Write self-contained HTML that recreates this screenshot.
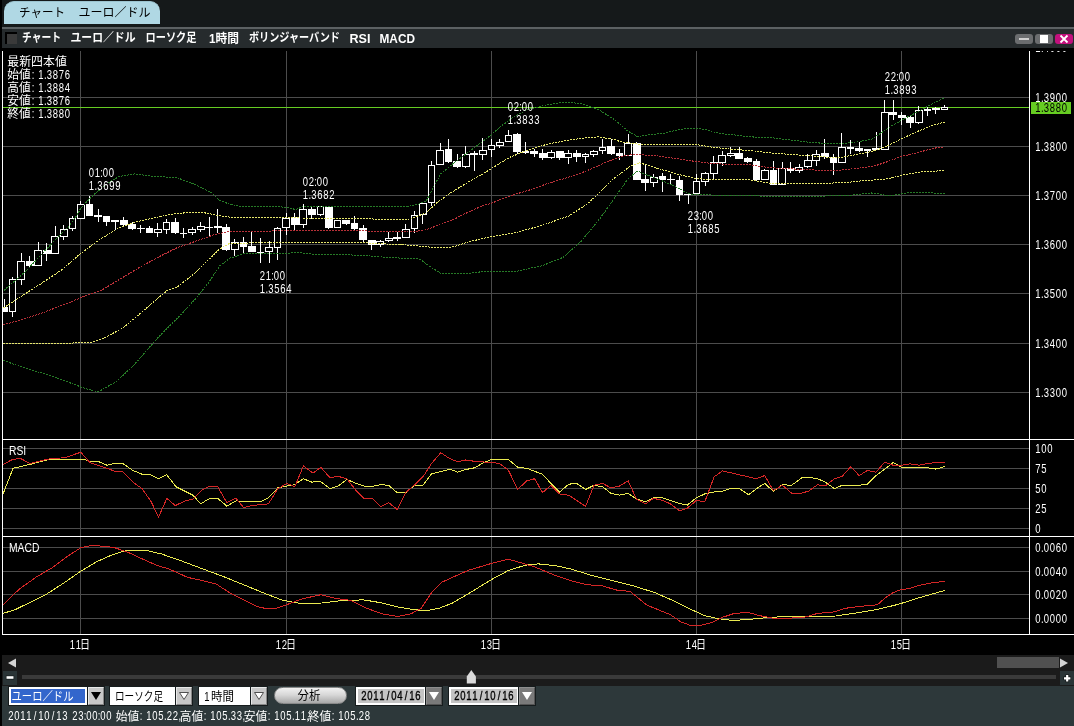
<!DOCTYPE html>
<html lang="ja">
<head>
<meta charset="utf-8">
<title>チャート ユーロ／ドル</title>
<style>
html,body{margin:0;padding:0}
body{width:1074px;height:726px;overflow:hidden;position:relative;background:#15191a;font-family:"Liberation Sans", sans-serif;font-size:12px;color:#fff}
div,svg,span{position:absolute;box-sizing:border-box}
svg{will-change:transform}
.edge{left:0;top:0;width:2px;height:726px;background:#000}
.tab{left:4px;top:1px;width:156px;height:23px;background:#b0d8e4;border-radius:10px 10px 0 0;border-top:1px solid #9cc4d0}
.tab svg{top:-4.5px}
.rule{left:2px;top:27px;width:1072px;height:2px;background:#5c6163}
.title{left:2px;top:29px;width:1072px;height:19px;background:#262b2d}
.title svg{left:-2px}
.chk{left:3px;top:3px;width:12px;height:12px;background:#3a3a3a;border-left:2px solid #000;border-top:2px solid #000}
.wb{top:5px;width:18px;height:10px;border-radius:3px;background:#6b6d6f}
.wb.min{left:1013px} .wb.max{left:1033px} .wb.cls{left:1053px;background:#c2107c}
.wb.min i{position:absolute;left:4px;top:4px;width:10px;height:2px;background:#cfcfcf}
.wb.max i{position:absolute;left:5px;top:1px;width:8px;height:8px;background:#fff}
.chart{left:0;top:48px;will-change:transform}
.hscroll{left:2px;top:655px;width:1072px;height:16px;background:#1b1b1b}
.hscroll .thumb{left:995px;top:2px;width:62px;height:11px;background:#505050}
.zoomrow{left:2px;top:671px;width:1072px;height:15px;background:#1b1b1b}
.zoomrow .track{left:20px;top:4px;width:1034px;height:4px;background:#3a3a3a}
.zb{top:0;width:14px;height:14px;background:#2a3436}
.panel{left:2px;top:686px;width:1072px;height:40px;background:#2d383a}
.cb{top:1px;height:18px;background:#fff;border:1px solid #fff;box-shadow:0 0 0 1px #161c1d}
.dd{top:1px;width:16px;height:18px;background:#c8c8c8;border:1px solid #e8e8e8;border-right-color:#888;border-bottom-color:#888;box-shadow:0 0 0 1px #161c1d}
.date{top:1px;width:70px;height:18px;background:#c4c4c4;border:2px solid #fff;color:#000;box-shadow:0 0 0 1px #161c1d}
.date span{left:4px;top:0;font-size:12.5px;line-height:14px;transform:scaleX(.863);transform-origin:0 0;white-space:nowrap}
.ddk{top:1px;width:16px;height:18px;background:#7a7a7a;border:1px solid #8e8e8e;border-right-color:#555;border-bottom-color:#555;box-shadow:0 0 0 1px #161c1d}
.btn{left:272px;top:1px;width:73px;height:17px;border-radius:9px;background:linear-gradient(#f0f0f0,#d8d8d8 45%,#a8a8a8);border:1px solid #8a8a8a}
.status{left:0;top:22px;width:500px;height:16px}
</style>
</head>
<body>
<div class="edge"></div>
<div class="tab"><svg width="160" height="24" viewBox="0 0 160 24" style="position:absolute;left:0;top:0;" font-family='"Liberation Sans", sans-serif'><text x="15" y="14.5" font-size="12" fill="#000" font-family='"Liberation Sans", "Noto Sans CJK JP", sans-serif' textLength="46" lengthAdjust="spacingAndGlyphs">チャート</text><text x="74.5" y="14.5" font-size="12" fill="#000" font-family='"Liberation Sans", "Noto Sans CJK JP", sans-serif' textLength="72" lengthAdjust="spacingAndGlyphs">ユーロ／ドル</text></svg></div>
<div class="rule"></div>
<div class="title">
  <div class="chk"></div>
  <svg width="430" height="19" viewBox="0 0 430 19" style="position:absolute;left:0;top:0;" font-family='"Liberation Sans", sans-serif'><text x="20" y="13.3" font-size="12" font-weight="bold" fill="#fff" font-family='"Liberation Sans", "Noto Sans CJK JP", sans-serif' textLength="39" lengthAdjust="spacingAndGlyphs">チャート</text><text x="68.5" y="13.3" font-size="12" font-weight="bold" fill="#fff" font-family='"Liberation Sans", "Noto Sans CJK JP", sans-serif' textLength="65" lengthAdjust="spacingAndGlyphs">ユーロ／ドル</text><text x="143.5" y="13.3" font-size="12" font-weight="bold" fill="#fff" font-family='"Liberation Sans", "Noto Sans CJK JP", sans-serif' textLength="51" lengthAdjust="spacingAndGlyphs">ローソク足</text><text x="207" y="13.5" font-size="12" font-weight="bold" fill="#fff" font-family='"Liberation Sans", "Noto Sans CJK JP", sans-serif' textLength="30" lengthAdjust="spacingAndGlyphs">1時間</text><text x="247" y="13.3" font-size="12" font-weight="bold" fill="#fff" font-family='"Liberation Sans", "Noto Sans CJK JP", sans-serif' textLength="91" lengthAdjust="spacingAndGlyphs">ボリンジャーバンド</text><text x="347.5" y="13.8" font-size="12" font-weight="bold" fill="#fff" textLength="21" lengthAdjust="spacingAndGlyphs">RSI</text><text x="377.5" y="13.8" font-size="12" font-weight="bold" fill="#fff" textLength="35.5" lengthAdjust="spacingAndGlyphs">MACD</text></svg>
  <div class="wb min"><i></i></div>
  <div class="wb max"><i></i></div>
  <div class="wb cls"><svg width="18" height="10" viewBox="0 0 18 10" style="left:0;top:0"><path d="M5.5 1.5L12.5 8.5M12.5 1.5L5.5 8.5" stroke="#fff" stroke-width="1.8" fill="none"/></svg></div>
</div>
<svg class="chart" width="1074" height="607" viewBox="0 48 1074 607" font-family='"Liberation Sans", sans-serif'>
<rect x="0" y="48" width="1074" height="607" fill="#000"/>
<defs><clipPath id="cp"><rect x="3" y="51" width="1026" height="583"/></clipPath><clipPath id="cr"><rect x="1030" y="51" width="44" height="583"/></clipPath></defs>
<g shape-rendering="crispEdges" fill="#4c4c4c">
<rect x="3" y="97" width="1026" height="1"/>
<rect x="3" y="146" width="1026" height="1"/>
<rect x="3" y="195" width="1026" height="1"/>
<rect x="3" y="244" width="1026" height="1"/>
<rect x="3" y="293" width="1026" height="1"/>
<rect x="3" y="343" width="1026" height="1"/>
<rect x="3" y="392" width="1026" height="1"/>
<rect x="3" y="448" width="1026" height="1"/>
<rect x="3" y="468" width="1026" height="1"/>
<rect x="3" y="488" width="1026" height="1"/>
<rect x="3" y="508" width="1026" height="1"/>
<rect x="3" y="528" width="1026" height="1"/>
<rect x="3" y="547" width="1026" height="1"/>
<rect x="3" y="571" width="1026" height="1"/>
<rect x="3" y="594" width="1026" height="1"/>
<rect x="3" y="618" width="1026" height="1"/>
<rect x="80" y="51" width="1" height="583"/>
<rect x="286" y="51" width="1" height="583"/>
<rect x="491" y="51" width="1" height="583"/>
<rect x="696" y="51" width="1" height="583"/>
<rect x="901" y="51" width="1" height="583"/>
</g>
<rect x="3" y="107" width="1026" height="1" fill="#66cc22" shape-rendering="crispEdges"/>
<g shape-rendering="crispEdges" clip-path="url(#cp)">
<rect x="4" y="299" width="1" height="13" fill="#fff"/>
<rect x="0" y="307" width="8" height="5" fill="#fff"/>
<rect x="12" y="277" width="1" height="40" fill="#fff"/>
<rect x="9.5" y="279.5" width="6" height="32" fill="#000" stroke="#fff" stroke-width="1"/>
<rect x="21" y="253" width="1" height="32" fill="#fff"/>
<rect x="17.5" y="261.5" width="7" height="18" fill="#000" stroke="#fff" stroke-width="1"/>
<rect x="29" y="256" width="1" height="11" fill="#fff"/>
<rect x="26" y="261" width="8" height="5" fill="#fff"/>
<rect x="38" y="242" width="1" height="24" fill="#fff"/>
<rect x="34.5" y="250.5" width="7" height="15" fill="#000" stroke="#fff" stroke-width="1"/>
<rect x="46" y="243" width="1" height="18" fill="#fff"/>
<rect x="43" y="250" width="8" height="4" fill="#fff"/>
<rect x="55" y="226" width="1" height="28" fill="#fff"/>
<rect x="51.5" y="236.5" width="7" height="17" fill="#000" stroke="#fff" stroke-width="1"/>
<rect x="63" y="225" width="1" height="15" fill="#fff"/>
<rect x="60.5" y="229.5" width="7" height="7" fill="#000" stroke="#fff" stroke-width="1"/>
<rect x="72" y="216" width="1" height="15" fill="#fff"/>
<rect x="69.5" y="218.5" width="6" height="10" fill="#000" stroke="#fff" stroke-width="1"/>
<rect x="80" y="201" width="1" height="18" fill="#fff"/>
<rect x="77.5" y="204.5" width="7" height="14" fill="#000" stroke="#fff" stroke-width="1"/>
<rect x="89" y="196" width="1" height="20" fill="#fff"/>
<rect x="86" y="204" width="7" height="12" fill="#fff"/>
<rect x="98" y="209" width="1" height="13" fill="#fff"/>
<rect x="94" y="215" width="8" height="2" fill="#fff"/>
<rect x="106" y="216" width="1" height="10" fill="#fff"/>
<rect x="103" y="216" width="7" height="6" fill="#fff"/>
<rect x="115" y="220" width="1" height="10" fill="#fff"/>
<rect x="111" y="220" width="8" height="2" fill="#fff"/>
<rect x="123" y="217" width="1" height="10" fill="#fff"/>
<rect x="120" y="220" width="8" height="5" fill="#fff"/>
<rect x="132" y="222" width="1" height="8" fill="#fff"/>
<rect x="128" y="224" width="8" height="5" fill="#fff"/>
<rect x="140" y="225" width="1" height="8" fill="#fff"/>
<rect x="137" y="228" width="8" height="1" fill="#fff"/>
<rect x="149" y="226" width="1" height="7" fill="#fff"/>
<rect x="146" y="228" width="7" height="5" fill="#fff"/>
<rect x="157" y="223" width="1" height="14" fill="#fff"/>
<rect x="154.5" y="229.5" width="7" height="3" fill="#000" stroke="#fff" stroke-width="1"/>
<rect x="166" y="219" width="1" height="15" fill="#fff"/>
<rect x="163.5" y="222.5" width="6" height="7" fill="#000" stroke="#fff" stroke-width="1"/>
<rect x="175" y="218" width="1" height="16" fill="#fff"/>
<rect x="171" y="222" width="8" height="11" fill="#fff"/>
<rect x="183" y="228" width="1" height="10" fill="#fff"/>
<rect x="180" y="233" width="7" height="1" fill="#fff"/>
<rect x="192" y="227" width="1" height="8" fill="#fff"/>
<rect x="188.5" y="229.5" width="7" height="3" fill="#000" stroke="#fff" stroke-width="1"/>
<rect x="200" y="222" width="1" height="10" fill="#fff"/>
<rect x="197.5" y="226.5" width="7" height="3" fill="#000" stroke="#fff" stroke-width="1"/>
<rect x="209" y="217" width="1" height="20" fill="#fff"/>
<rect x="205" y="227" width="8" height="1" fill="#fff"/>
<rect x="217" y="209" width="1" height="24" fill="#fff"/>
<rect x="214" y="226" width="8" height="2" fill="#fff"/>
<rect x="226" y="224" width="1" height="27" fill="#fff"/>
<rect x="222" y="227" width="8" height="23" fill="#fff"/>
<rect x="234" y="239" width="1" height="17" fill="#fff"/>
<rect x="231.5" y="242.5" width="7" height="7" fill="#000" stroke="#fff" stroke-width="1"/>
<rect x="243" y="237" width="1" height="16" fill="#fff"/>
<rect x="240" y="242" width="7" height="5" fill="#fff"/>
<rect x="251" y="232" width="1" height="20" fill="#fff"/>
<rect x="248" y="246" width="8" height="6" fill="#fff"/>
<rect x="260" y="238" width="1" height="25" fill="#fff"/>
<rect x="257" y="252" width="7" height="1" fill="#fff"/>
<rect x="269" y="241" width="1" height="22" fill="#fff"/>
<rect x="265.5" y="247.5" width="7" height="4" fill="#000" stroke="#fff" stroke-width="1"/>
<rect x="277" y="227" width="1" height="33" fill="#fff"/>
<rect x="274.5" y="228.5" width="6" height="19" fill="#000" stroke="#fff" stroke-width="1"/>
<rect x="286" y="213" width="1" height="22" fill="#fff"/>
<rect x="282.5" y="218.5" width="7" height="9" fill="#000" stroke="#fff" stroke-width="1"/>
<rect x="294" y="213" width="1" height="17" fill="#fff"/>
<rect x="291" y="217" width="8" height="8" fill="#fff"/>
<rect x="303" y="204" width="1" height="24" fill="#fff"/>
<rect x="299.5" y="209.5" width="7" height="15" fill="#000" stroke="#fff" stroke-width="1"/>
<rect x="311" y="207" width="1" height="12" fill="#fff"/>
<rect x="308" y="209" width="8" height="6" fill="#fff"/>
<rect x="320" y="206" width="1" height="10" fill="#fff"/>
<rect x="317.5" y="206.5" width="6" height="8" fill="#000" stroke="#fff" stroke-width="1"/>
<rect x="328" y="207" width="1" height="22" fill="#fff"/>
<rect x="325" y="207" width="8" height="21" fill="#fff"/>
<rect x="337" y="220" width="1" height="8" fill="#fff"/>
<rect x="334.5" y="220.5" width="6" height="7" fill="#000" stroke="#fff" stroke-width="1"/>
<rect x="346" y="220" width="1" height="5" fill="#fff"/>
<rect x="342" y="220" width="8" height="4" fill="#fff"/>
<rect x="354" y="216" width="1" height="14" fill="#fff"/>
<rect x="351" y="223" width="7" height="6" fill="#fff"/>
<rect x="363" y="225" width="1" height="18" fill="#fff"/>
<rect x="359" y="228" width="8" height="12" fill="#fff"/>
<rect x="371" y="240" width="1" height="10" fill="#fff"/>
<rect x="368" y="240" width="8" height="5" fill="#fff"/>
<rect x="380" y="240" width="1" height="7" fill="#fff"/>
<rect x="376.5" y="241.5" width="7" height="3" fill="#000" stroke="#fff" stroke-width="1"/>
<rect x="388" y="232" width="1" height="10" fill="#fff"/>
<rect x="385.5" y="238.5" width="7" height="2" fill="#000" stroke="#fff" stroke-width="1"/>
<rect x="397" y="232" width="1" height="9" fill="#fff"/>
<rect x="393" y="237" width="8" height="2" fill="#fff"/>
<rect x="405" y="224" width="1" height="14" fill="#fff"/>
<rect x="402.5" y="229.5" width="7" height="8" fill="#000" stroke="#fff" stroke-width="1"/>
<rect x="414" y="211" width="1" height="22" fill="#fff"/>
<rect x="411.5" y="215.5" width="6" height="13" fill="#000" stroke="#fff" stroke-width="1"/>
<rect x="422" y="202" width="1" height="22" fill="#fff"/>
<rect x="419.5" y="203.5" width="7" height="11" fill="#000" stroke="#fff" stroke-width="1"/>
<rect x="431" y="161" width="1" height="45" fill="#fff"/>
<rect x="428.5" y="165.5" width="6" height="37" fill="#000" stroke="#fff" stroke-width="1"/>
<rect x="440" y="143" width="1" height="22" fill="#fff"/>
<rect x="436.5" y="150.5" width="7" height="14" fill="#000" stroke="#fff" stroke-width="1"/>
<rect x="448" y="139" width="1" height="24" fill="#fff"/>
<rect x="445" y="149" width="7" height="13" fill="#fff"/>
<rect x="457" y="154" width="1" height="14" fill="#fff"/>
<rect x="453" y="161" width="8" height="6" fill="#fff"/>
<rect x="465" y="146" width="1" height="22" fill="#fff"/>
<rect x="462.5" y="154.5" width="7" height="12" fill="#000" stroke="#fff" stroke-width="1"/>
<rect x="474" y="151" width="1" height="20" fill="#fff"/>
<rect x="470" y="153" width="8" height="2" fill="#fff"/>
<rect x="482" y="138" width="1" height="22" fill="#fff"/>
<rect x="479.5" y="150.5" width="7" height="4" fill="#000" stroke="#fff" stroke-width="1"/>
<rect x="491" y="139" width="1" height="18" fill="#fff"/>
<rect x="488.5" y="145.5" width="6" height="4" fill="#000" stroke="#fff" stroke-width="1"/>
<rect x="499" y="139" width="1" height="9" fill="#fff"/>
<rect x="496.5" y="142.5" width="7" height="3" fill="#000" stroke="#fff" stroke-width="1"/>
<rect x="508" y="130" width="1" height="12" fill="#fff"/>
<rect x="505.5" y="135.5" width="6" height="6" fill="#000" stroke="#fff" stroke-width="1"/>
<rect x="517" y="133" width="1" height="21" fill="#fff"/>
<rect x="513" y="134" width="8" height="18" fill="#fff"/>
<rect x="525" y="142" width="1" height="12" fill="#fff"/>
<rect x="522" y="151" width="7" height="2" fill="#fff"/>
<rect x="534" y="149" width="1" height="8" fill="#fff"/>
<rect x="530" y="151" width="8" height="3" fill="#fff"/>
<rect x="542" y="149" width="1" height="11" fill="#fff"/>
<rect x="539" y="153" width="8" height="5" fill="#fff"/>
<rect x="551" y="150" width="1" height="9" fill="#fff"/>
<rect x="547.5" y="152.5" width="7" height="5" fill="#000" stroke="#fff" stroke-width="1"/>
<rect x="559" y="151" width="1" height="9" fill="#fff"/>
<rect x="556" y="151" width="8" height="7" fill="#fff"/>
<rect x="568" y="150" width="1" height="14" fill="#fff"/>
<rect x="564.5" y="153.5" width="7" height="4" fill="#000" stroke="#fff" stroke-width="1"/>
<rect x="576" y="150" width="1" height="12" fill="#fff"/>
<rect x="573" y="153" width="8" height="4" fill="#fff"/>
<rect x="585" y="153" width="1" height="10" fill="#fff"/>
<rect x="582.5" y="154.5" width="6" height="2" fill="#000" stroke="#fff" stroke-width="1"/>
<rect x="593" y="150" width="1" height="7" fill="#fff"/>
<rect x="590.5" y="151.5" width="7" height="3" fill="#000" stroke="#fff" stroke-width="1"/>
<rect x="602" y="139" width="1" height="15" fill="#fff"/>
<rect x="599.5" y="147.5" width="6" height="3" fill="#000" stroke="#fff" stroke-width="1"/>
<rect x="611" y="139" width="1" height="16" fill="#fff"/>
<rect x="607" y="146" width="8" height="8" fill="#fff"/>
<rect x="619" y="149" width="1" height="11" fill="#fff"/>
<rect x="616" y="153" width="7" height="3" fill="#fff"/>
<rect x="628" y="134" width="1" height="22" fill="#fff"/>
<rect x="624.5" y="143.5" width="7" height="12" fill="#000" stroke="#fff" stroke-width="1"/>
<rect x="636" y="142" width="1" height="38" fill="#fff"/>
<rect x="633" y="143" width="8" height="37" fill="#fff"/>
<rect x="645" y="164" width="1" height="27" fill="#fff"/>
<rect x="641" y="179" width="8" height="4" fill="#fff"/>
<rect x="653" y="174" width="1" height="13" fill="#fff"/>
<rect x="650.5" y="177.5" width="7" height="5" fill="#000" stroke="#fff" stroke-width="1"/>
<rect x="662" y="173" width="1" height="19" fill="#fff"/>
<rect x="659" y="176" width="7" height="4" fill="#fff"/>
<rect x="670" y="174" width="1" height="11" fill="#fff"/>
<rect x="667" y="179" width="8" height="1" fill="#fff"/>
<rect x="679" y="176" width="1" height="25" fill="#fff"/>
<rect x="676" y="180" width="7" height="15" fill="#fff"/>
<rect x="688" y="193" width="1" height="11" fill="#fff"/>
<rect x="684" y="194" width="8" height="1" fill="#fff"/>
<rect x="696" y="174" width="1" height="20" fill="#fff"/>
<rect x="693.5" y="181.5" width="6" height="12" fill="#000" stroke="#fff" stroke-width="1"/>
<rect x="705" y="172" width="1" height="14" fill="#fff"/>
<rect x="701.5" y="173.5" width="7" height="8" fill="#000" stroke="#fff" stroke-width="1"/>
<rect x="713" y="156" width="1" height="23" fill="#fff"/>
<rect x="710.5" y="162.5" width="7" height="11" fill="#000" stroke="#fff" stroke-width="1"/>
<rect x="722" y="151" width="1" height="15" fill="#fff"/>
<rect x="718.5" y="155.5" width="7" height="7" fill="#000" stroke="#fff" stroke-width="1"/>
<rect x="730" y="147" width="1" height="10" fill="#fff"/>
<rect x="727.5" y="153.5" width="7" height="2" fill="#000" stroke="#fff" stroke-width="1"/>
<rect x="739" y="147" width="1" height="12" fill="#fff"/>
<rect x="735" y="153" width="8" height="6" fill="#fff"/>
<rect x="747" y="157" width="1" height="6" fill="#fff"/>
<rect x="744" y="158" width="8" height="4" fill="#fff"/>
<rect x="756" y="159" width="1" height="22" fill="#fff"/>
<rect x="753" y="161" width="7" height="19" fill="#fff"/>
<rect x="764" y="169" width="1" height="11" fill="#fff"/>
<rect x="761.5" y="170.5" width="7" height="9" fill="#000" stroke="#fff" stroke-width="1"/>
<rect x="773" y="161" width="1" height="24" fill="#fff"/>
<rect x="770" y="170" width="7" height="15" fill="#fff"/>
<rect x="782" y="162" width="1" height="23" fill="#fff"/>
<rect x="778.5" y="168.5" width="7" height="16" fill="#000" stroke="#fff" stroke-width="1"/>
<rect x="790" y="162" width="1" height="11" fill="#fff"/>
<rect x="787" y="168" width="7" height="3" fill="#fff"/>
<rect x="799" y="164" width="1" height="9" fill="#fff"/>
<rect x="795.5" y="167.5" width="7" height="3" fill="#000" stroke="#fff" stroke-width="1"/>
<rect x="807" y="154" width="1" height="14" fill="#fff"/>
<rect x="804.5" y="160.5" width="7" height="6" fill="#000" stroke="#fff" stroke-width="1"/>
<rect x="816" y="150" width="1" height="16" fill="#fff"/>
<rect x="812.5" y="154.5" width="7" height="6" fill="#000" stroke="#fff" stroke-width="1"/>
<rect x="824" y="139" width="1" height="20" fill="#fff"/>
<rect x="821" y="153" width="8" height="4" fill="#fff"/>
<rect x="833" y="154" width="1" height="21" fill="#fff"/>
<rect x="830" y="157" width="7" height="6" fill="#fff"/>
<rect x="841" y="133" width="1" height="30" fill="#fff"/>
<rect x="838.5" y="147.5" width="7" height="15" fill="#000" stroke="#fff" stroke-width="1"/>
<rect x="850" y="140" width="1" height="14" fill="#fff"/>
<rect x="847" y="147" width="7" height="2" fill="#fff"/>
<rect x="859" y="142" width="1" height="10" fill="#fff"/>
<rect x="855" y="148" width="8" height="3" fill="#fff"/>
<rect x="867" y="149" width="1" height="8" fill="#fff"/>
<rect x="864" y="149" width="7" height="2" fill="#fff"/>
<rect x="876" y="132" width="1" height="18" fill="#fff"/>
<rect x="872" y="148" width="8" height="2" fill="#fff"/>
<rect x="884" y="100" width="1" height="50" fill="#fff"/>
<rect x="881.5" y="112.5" width="7" height="37" fill="#000" stroke="#fff" stroke-width="1"/>
<rect x="893" y="100" width="1" height="20" fill="#fff"/>
<rect x="889" y="112" width="8" height="3" fill="#fff"/>
<rect x="901" y="112" width="1" height="13" fill="#fff"/>
<rect x="898" y="115" width="8" height="3" fill="#fff"/>
<rect x="910" y="115" width="1" height="13" fill="#fff"/>
<rect x="906" y="117" width="8" height="6" fill="#fff"/>
<rect x="918" y="106" width="1" height="18" fill="#fff"/>
<rect x="915.5" y="110.5" width="7" height="12" fill="#000" stroke="#fff" stroke-width="1"/>
<rect x="927" y="107" width="1" height="9" fill="#fff"/>
<rect x="924" y="109" width="7" height="2" fill="#fff"/>
<rect x="935" y="107" width="1" height="7" fill="#fff"/>
<rect x="932" y="108" width="8" height="2" fill="#fff"/>
<rect x="944" y="105" width="1" height="5" fill="#fff"/>
<rect x="941.5" y="107.5" width="6" height="2" fill="#000" stroke="#fff" stroke-width="1"/>
</g>
<g clip-path="url(#cp)" shape-rendering="crispEdges">
<polyline points="3.9,290.4 25.0,272.0 56.0,239.0 62.5,232.8 68.7,226.6 77.4,214.5 80.5,208.6 89.1,199.3 94.7,193.7 99.7,190.0 108.0,183.0 119.3,176.4 134.7,173.9 154.0,176.4 177.0,177.7 196.4,185.0 211.8,192.8 219.6,200.5 230.0,204.3 241.6,206.6 278.2,206.6 287.8,207.6 295.6,209.5 303.3,206.6 370.0,206.3 410.1,206.0 417.8,204.5 426.5,200.6 433.3,187.1 441.0,173.6 452.6,164.0 468.0,152.4 483.4,140.9 490.0,135.9 501.6,125.7 515.1,116.0 528.6,109.3 547.8,104.5 567.1,102.0 582.6,103.9 598.0,109.3 613.4,118.9 620.0,124.1 627.7,130.9 637.4,136.6 648.9,134.7 664.3,133.2 677.8,129.9 687.5,128.5 697.1,128.5 706.8,129.9 720.3,133.7 735.7,135.1 750.0,136.9 769.3,137.5 788.6,139.8 807.8,142.1 827.1,143.6 842.6,143.6 858.0,141.7 871.6,139.1 879.3,134.2 888.9,127.5 901.5,120.2 917.8,111.7 933.3,103.4 944.5,97.6" fill="none" stroke="#267a26" stroke-width="1" stroke-dasharray="2 1"/>
<polyline points="3.4,360.5 22.3,367.2 44.7,373.9 67.0,381.7 84.9,388.4 98.3,391.8 116.2,381.7 134.0,365.0 156.4,339.3 178.8,316.9 194.5,300.0 208.0,283.4 219.6,266.0 231.0,257.4 235.8,256.8 243.5,253.3 287.8,253.3 295.6,252.0 307.1,253.9 360.0,255.2 386.1,257.3 420.0,259.1 430.4,266.9 440.8,273.4 464.3,273.9 485.1,271.3 516.4,271.3 542.5,265.6 563.3,257.3 581.6,240.8 599.8,218.7 617.3,194.1 627.7,179.1 637.4,171.0 645.1,174.2 662.4,181.0 677.8,187.7 687.5,193.5 697.1,194.9 750.0,195.3 769.3,196.7 807.8,196.3 846.4,195.7 871.6,193.0 879.3,194.0 888.9,195.9 901.5,194.0 910.1,192.5 927.5,192.5 944.5,194.0" fill="none" stroke="#267a26" stroke-width="1" stroke-dasharray="2 1"/>
<polyline points="3.4,308.0 22.3,295.7 44.7,281.2 61.5,270.0 80.0,254.0 100.0,239.4 119.3,227.5 138.6,221.3 163.6,215.9 177.0,213.4 200.3,212.0 215.7,215.0 230.0,217.2 300.0,218.0 360.0,218.4 379.3,219.3 408.2,219.3 425.6,213.2 437.1,202.6 450.6,192.9 468.0,182.3 483.4,173.6 490.0,169.4 509.3,157.5 528.6,149.8 547.8,144.0 567.1,140.5 586.4,137.6 598.0,136.9 613.4,139.2 620.0,141.5 639.3,144.4 668.2,144.7 697.1,144.7 712.6,147.2 735.7,149.7 750.0,150.4 769.3,152.9 796.3,154.8 827.1,157.1 842.6,157.1 858.0,154.2 875.4,150.6 885.1,146.8 901.5,138.7 917.8,131.3 933.3,125.2 944.5,122.1" fill="none" stroke="#e6e66a" stroke-width="1" stroke-dasharray="2 1"/>
<polyline points="3.4,343.3 44.7,343.7 89.4,342.6 100.6,339.7 122.9,328.1 145.3,309.1 167.6,290.1 177.0,287.3 196.4,271.8 208.0,260.3 219.6,249.1 230.0,243.2 300.0,242.5 360.0,242.6 412.1,245.3 438.2,247.9 453.8,246.8 469.5,241.6 490.3,236.9 516.4,232.5 542.5,225.2 568.6,216.1 586.8,204.3 598.0,194.1 613.4,178.7 620.0,174.2 629.6,166.5 639.3,162.7 654.7,167.5 677.8,174.2 697.1,178.7 712.6,179.6 750.0,179.9 769.3,183.2 796.3,183.5 827.1,183.2 846.4,182.6 865.7,180.3 875.4,179.9 888.9,178.6 901.5,175.3 917.8,172.2 933.3,171.3 944.5,170.3" fill="none" stroke="#e6e66a" stroke-width="1" stroke-dasharray="2 1"/>
<polyline points="3.4,324.7 22.3,319.6 44.7,312.0 67.0,303.5 89.4,294.1 100.0,291.1 119.3,279.5 138.6,268.0 157.8,257.4 177.0,247.7 196.4,241.0 215.7,234.2 230.0,231.3 300.0,230.8 360.0,230.5 379.3,231.9 408.2,231.9 423.6,230.5 437.1,225.7 452.6,219.9 468.0,212.2 483.4,205.4 490.0,203.8 509.3,196.1 528.6,190.3 547.8,183.5 567.1,177.7 586.4,171.0 605.7,162.3 620.0,156.9 631.6,154.4 654.7,155.5 677.8,158.8 697.1,161.7 712.6,163.6 735.7,164.6 750.0,164.8 769.3,167.7 796.3,169.1 817.5,170.2 836.8,170.6 858.0,168.3 875.4,165.7 888.9,161.2 901.5,156.4 917.8,152.6 933.3,148.3 944.5,146.8" fill="none" stroke="#b83038" stroke-width="1" stroke-dasharray="2 1"/>
<polyline points="3.1,493.9 13.0,468.3 30.0,464.4 46.9,460.0 65.2,459.2 83.4,459.2 89.9,461.3 99.1,461.8 106.9,465.2 114.7,463.4 122.5,463.4 132.9,470.4 142.1,474.3 149.9,474.3 158.5,478.7 166.8,474.8 176.0,486.8 192.9,495.2 200.7,503.8 209.9,498.3 217.7,498.3 226.8,506.1 235.9,500.9 251.6,501.7 260.7,501.7 268.5,497.8 277.8,487.9 286.9,486.0 294.8,484.7 303.4,478.7 311.7,482.1 320.8,481.6 330.0,488.7 338.3,486.0 346.9,479.5 356.0,483.4 363.8,486.0 374.3,486.0 380.8,484.7 388.6,485.3 397.2,492.6 405.6,492.6 414.7,485.3 422.5,486.0 431.6,473.8 440.8,471.7 449.9,469.1 457.7,472.2 465.5,469.6 474.6,467.8 483.8,462.6 491.6,459.5 508.5,459.5 517.7,467.3 526.8,468.3 542.6,474.3 550.9,483.4 559.6,492.0 568.7,484.2 576.5,483.4 585.6,489.4 594.0,485.3 602.6,486.8 610.9,493.3 619.5,495.2 628.1,493.3 636.5,499.1 645.6,501.7 653.4,497.8 662.5,497.8 670.3,500.4 679.5,503.5 687.3,505.1 696.4,497.8 704.8,493.9 714.1,492.0 722.5,491.3 731.6,488.1 739.4,488.7 748.6,494.7 756.4,488.7 764.7,483.4 773.3,491.3 782.4,484.7 791.6,485.3 801.8,477.7 809.6,477.4 817.5,478.7 825.3,482.1 834.4,488.7 842.2,485.3 850.8,486.0 859.2,485.3 867.5,484.2 876.1,475.6 884.7,469.1 893.1,462.6 901.7,467.3 910.0,467.8 919.1,467.3 927.5,467.8 936.1,469.1 944.7,466.5" fill="none" stroke="#eaea50" stroke-width="1"/>
<polyline points="3.1,464.4 13.0,459.2 20.9,458.7 30.0,463.4 46.9,459.2 65.2,457.6 80.8,452.2 89.9,462.6 104.3,467.3 114.7,471.2 122.5,471.2 132.9,482.1 142.1,488.7 151.2,501.7 158.5,517.3 166.8,498.3 175.2,505.6 185.1,500.9 192.9,499.1 202.0,490.0 209.9,486.0 217.7,486.8 226.8,502.5 235.9,498.3 243.7,507.7 251.6,505.6 268.5,503.8 277.8,488.7 286.9,483.4 294.8,486.8 303.4,466.0 313.0,473.0 320.8,467.3 330.0,477.7 338.3,476.4 346.9,478.7 356.0,490.5 363.8,498.3 372.5,498.3 380.8,506.9 388.6,502.5 397.2,509.5 405.6,492.6 414.7,484.7 423.8,475.6 431.6,463.4 440.8,452.7 449.9,458.7 457.7,461.8 465.5,460.0 474.6,461.3 491.6,462.6 499.4,463.4 508.5,470.4 517.7,489.4 526.8,480.8 534.6,478.7 542.6,492.6 550.9,485.3 559.6,493.9 568.7,495.2 585.6,506.4 594.0,485.3 602.6,483.4 610.9,487.9 619.5,486.0 628.1,480.8 636.5,499.1 645.6,503.8 653.4,498.3 662.5,500.4 670.3,503.8 679.5,510.8 687.3,508.2 696.4,500.4 704.8,501.7 714.1,476.9 722.5,470.9 731.6,473.0 756.4,478.7 764.7,475.6 773.3,490.5 782.4,485.3 791.6,493.1 800.5,493.3 808.3,491.3 817.5,484.7 825.3,486.0 834.4,478.7 842.2,476.4 850.8,466.5 859.2,475.6 867.5,470.4 876.1,472.2 884.7,462.1 893.1,465.2 901.7,465.2 910.0,463.9 919.1,465.2 927.5,463.4 936.1,462.6 944.7,462.6" fill="none" stroke="#d42626" stroke-width="1"/>
<polyline points="3.1,613.4 15.6,609.5 31.3,601.7 46.9,593.9 65.2,582.1 80.8,571.2 96.5,561.8 112.1,554.8 125.1,550.9 135.6,550.1 148.6,550.9 161.6,554.0 182.5,561.3 203.3,569.1 224.2,576.9 245.0,585.3 265.9,593.9 283.0,600.4 301.3,603.5 322.1,603.0 343.0,600.4 363.8,599.9 379.5,602.5 397.7,606.9 413.4,609.5 426.4,610.8 439.4,608.2 452.5,603.0 468.1,593.9 491.6,579.5 508.5,570.4 525.5,565.2 538.5,563.9 555.6,565.7 571.3,569.1 592.1,575.6 613.0,580.8 633.8,586.0 654.7,592.6 675.6,601.7 691.2,609.5 704.2,615.5 717.3,618.6 732.9,620.5 748.6,619.4 764.2,617.9 779.8,616.8 800.7,616.8 814.9,616.5 835.7,616.0 856.6,612.9 877.4,609.5 898.3,604.3 919.1,597.8 944.7,590.5" fill="none" stroke="#eaea50" stroke-width="1"/>
<polyline points="3.1,605.1 10.4,597.3 20.9,587.9 36.5,576.9 52.1,567.8 67.8,556.1 80.8,547.7 91.2,545.6 104.3,546.2 114.7,547.7 127.7,552.2 140.8,558.2 156.4,565.2 169.4,569.1 187.7,577.4 203.3,580.8 216.4,584.2 229.4,592.6 245.0,600.4 258.1,606.9 268.5,609.0 276.0,608.5 285.6,605.1 301.3,599.1 320.8,594.7 335.2,598.3 350.8,600.4 366.5,608.2 382.1,613.9 397.7,616.5 410.8,613.9 421.2,608.2 431.6,592.6 442.1,582.1 452.5,577.4 468.1,570.4 491.6,563.4 508.5,559.2 520.3,562.6 533.3,566.5 540.0,569.1 555.6,575.6 571.3,580.8 586.9,584.7 602.6,586.0 618.2,590.5 629.9,591.3 646.9,605.1 670.3,614.7 680.8,621.8 689.9,625.2 701.6,625.2 712.1,622.5 722.5,617.3 732.9,613.9 747.2,612.1 759.0,615.5 774.6,618.6 790.3,618.1 804.4,617.3 817.5,613.4 833.1,612.1 846.1,608.2 859.2,606.4 877.4,604.8 885.2,597.8 893.1,592.6 901.7,589.4 908.7,588.7 919.1,585.3 932.2,582.7 944.7,581.4" fill="none" stroke="#d42626" stroke-width="1"/>
</g>
<g shape-rendering="crispEdges" fill="#fff">
<rect x="2" y="51" width="1" height="584"/>
<rect x="1029" y="51" width="1" height="584"/>
<rect x="2" y="439" width="1072" height="1"/>
<rect x="2" y="536" width="1072" height="1"/>
<rect x="2" y="634" width="1072" height="1"/>
</g>
<g clip-path="url(#cr)">
<text transform="scale(0.76,1)" x="1365.79 1371.38 1376.97 1384.87 1392.76 1400.66" y="52" font-size="12.5" fill="#fff" text-anchor="middle">1.4000</text>
<text transform="scale(0.76,1)" x="1365.79 1371.38 1376.97 1384.87 1392.76 1400.66" y="102" font-size="12.5" fill="#fff" text-anchor="middle">1.3900</text>
<text transform="scale(0.76,1)" x="1365.79 1371.38 1376.97 1384.87 1392.76 1400.66" y="151" font-size="12.5" fill="#fff" text-anchor="middle">1.3800</text>
<text transform="scale(0.76,1)" x="1365.79 1371.38 1376.97 1384.87 1392.76 1400.66" y="200" font-size="12.5" fill="#fff" text-anchor="middle">1.3700</text>
<text transform="scale(0.76,1)" x="1365.79 1371.38 1376.97 1384.87 1392.76 1400.66" y="249" font-size="12.5" fill="#fff" text-anchor="middle">1.3600</text>
<text transform="scale(0.76,1)" x="1365.79 1371.38 1376.97 1384.87 1392.76 1400.66" y="298" font-size="12.5" fill="#fff" text-anchor="middle">1.3500</text>
<text transform="scale(0.76,1)" x="1365.79 1371.38 1376.97 1384.87 1392.76 1400.66" y="348" font-size="12.5" fill="#fff" text-anchor="middle">1.3400</text>
<text transform="scale(0.76,1)" x="1365.79 1371.38 1376.97 1384.87 1392.76 1400.66" y="397" font-size="12.5" fill="#fff" text-anchor="middle">1.3300</text>
<text transform="scale(0.76,1)" x="1365.79 1373.68 1381.58" y="453" font-size="12.5" fill="#fff" text-anchor="middle">100</text>
<text transform="scale(0.76,1)" x="1365.79 1373.68" y="473" font-size="12.5" fill="#fff" text-anchor="middle">75</text>
<text transform="scale(0.76,1)" x="1365.79 1373.68" y="493" font-size="12.5" fill="#fff" text-anchor="middle">50</text>
<text transform="scale(0.76,1)" x="1365.79 1373.68" y="513" font-size="12.5" fill="#fff" text-anchor="middle">25</text>
<text transform="scale(0.76,1)" x="1365.79" y="533" font-size="12.5" fill="#fff" text-anchor="middle">0</text>
<text transform="scale(0.76,1)" x="1365.79 1371.38 1376.97 1384.87 1392.76 1400.66" y="552" font-size="12.5" fill="#fff" text-anchor="middle">0.0060</text>
<text transform="scale(0.76,1)" x="1365.79 1371.38 1376.97 1384.87 1392.76 1400.66" y="576" font-size="12.5" fill="#fff" text-anchor="middle">0.0040</text>
<text transform="scale(0.76,1)" x="1365.79 1371.38 1376.97 1384.87 1392.76 1400.66" y="599" font-size="12.5" fill="#fff" text-anchor="middle">0.0020</text>
<text transform="scale(0.76,1)" x="1365.79 1371.38 1376.97 1384.87 1392.76 1400.66" y="623" font-size="12.5" fill="#fff" text-anchor="middle">0.0000</text>
</g>
<rect x="1031" y="102" width="40" height="12" fill="#66cc22" shape-rendering="crispEdges"/>
<text transform="scale(0.76,1)" x="1365.79 1371.38 1376.97 1384.87 1392.76 1400.66" y="112" font-size="12.5" fill="#000" text-anchor="middle">1.3880</text>
<text x="7.3" y="66" font-size="12" fill="#fff" font-family='"Liberation Sans", "Noto Sans CJK JP", sans-serif' textLength="59.5" lengthAdjust="spacingAndGlyphs">最新四本値</text>
<text x="7.3" y="79" font-size="12" fill="#fff" font-family='"Liberation Sans", "Noto Sans CJK JP", sans-serif' textLength="23.5" lengthAdjust="spacingAndGlyphs">始値</text>
<text transform="scale(0.76,1)" x="43.42 47.37 53.95 59.54 65.13 73.03 80.92 88.82" y="79" font-size="12.5" fill="#fff" text-anchor="middle">: 1.3876</text>
<text x="7.3" y="92" font-size="12" fill="#fff" font-family='"Liberation Sans", "Noto Sans CJK JP", sans-serif' textLength="23.5" lengthAdjust="spacingAndGlyphs">高値</text>
<text transform="scale(0.76,1)" x="43.42 47.37 53.95 59.54 65.13 73.03 80.92 88.82" y="92" font-size="12.5" fill="#fff" text-anchor="middle">: 1.3884</text>
<text x="7.3" y="105" font-size="12" fill="#fff" font-family='"Liberation Sans", "Noto Sans CJK JP", sans-serif' textLength="23.5" lengthAdjust="spacingAndGlyphs">安値</text>
<text transform="scale(0.76,1)" x="43.42 47.37 53.95 59.54 65.13 73.03 80.92 88.82" y="105" font-size="12.5" fill="#fff" text-anchor="middle">: 1.3876</text>
<text x="7.3" y="118" font-size="12" fill="#fff" font-family='"Liberation Sans", "Noto Sans CJK JP", sans-serif' textLength="23.5" lengthAdjust="spacingAndGlyphs">終値</text>
<text transform="scale(0.76,1)" x="43.42 47.37 53.95 59.54 65.13 73.03 80.92 88.82" y="118" font-size="12.5" fill="#fff" text-anchor="middle">: 1.3880</text>
<text transform="scale(0.76,1)" x="120.39 128.29 133.55 138.82 146.71" y="177" font-size="12.5" fill="#fff" text-anchor="middle">01:00</text>
<text transform="scale(0.76,1)" x="120.39 125.99 131.58 139.47 147.37 155.26" y="190" font-size="12.5" fill="#fff" text-anchor="middle">1.3699</text>
<text transform="scale(0.76,1)" x="345.39 353.29 358.55 363.82 371.71" y="280" font-size="12.5" fill="#fff" text-anchor="middle">21:00</text>
<text transform="scale(0.76,1)" x="345.39 350.99 356.58 364.47 372.37 380.26" y="293" font-size="12.5" fill="#fff" text-anchor="middle">1.3564</text>
<text transform="scale(0.76,1)" x="401.97 409.87 415.13 420.39 428.29" y="186" font-size="12.5" fill="#fff" text-anchor="middle">02:00</text>
<text transform="scale(0.76,1)" x="401.97 407.57 413.16 421.05 428.95 436.84" y="199" font-size="12.5" fill="#fff" text-anchor="middle">1.3682</text>
<text transform="scale(0.76,1)" x="671.71 679.61 684.87 690.13 698.03" y="111" font-size="12.5" fill="#fff" text-anchor="middle">02:00</text>
<text transform="scale(0.76,1)" x="671.71 677.3 682.89 690.79 698.68 706.58" y="124" font-size="12.5" fill="#fff" text-anchor="middle">1.3833</text>
<text transform="scale(0.76,1)" x="908.55 916.45 921.71 926.97 934.87" y="220" font-size="12.5" fill="#fff" text-anchor="middle">23:00</text>
<text transform="scale(0.76,1)" x="908.55 914.14 919.74 927.63 935.53 943.42" y="233" font-size="12.5" fill="#fff" text-anchor="middle">1.3685</text>
<text transform="scale(0.76,1)" x="1167.76 1175.66 1180.92 1186.18 1194.08" y="81" font-size="12.5" fill="#fff" text-anchor="middle">22:00</text>
<text transform="scale(0.76,1)" x="1167.76 1173.36 1178.95 1186.84 1194.74 1202.63" y="94" font-size="12.5" fill="#fff" text-anchor="middle">1.3893</text>
<text transform="translate(9,455) scale(0.86,1)" font-size="12" fill="#fff">RSI</text>
<text transform="translate(9,552) scale(0.86,1)" font-size="12" fill="#fff">MACD</text>
<text transform="scale(0.76,1)" x="95.39 103.29" y="649" font-size="12.5" fill="#fff" text-anchor="middle">11</text>
<text x="80" y="649" font-size="12" fill="#fff" font-family='"Liberation Sans", "Noto Sans CJK JP", sans-serif' textLength="10" lengthAdjust="spacingAndGlyphs">日</text>
<text transform="scale(0.76,1)" x="366.45 374.34" y="649" font-size="12.5" fill="#fff" text-anchor="middle">12</text>
<text x="286" y="649" font-size="12" fill="#fff" font-family='"Liberation Sans", "Noto Sans CJK JP", sans-serif' textLength="10" lengthAdjust="spacingAndGlyphs">日</text>
<text transform="scale(0.76,1)" x="636.18 644.08" y="649" font-size="12.5" fill="#fff" text-anchor="middle">13</text>
<text x="491" y="649" font-size="12" fill="#fff" font-family='"Liberation Sans", "Noto Sans CJK JP", sans-serif' textLength="10" lengthAdjust="spacingAndGlyphs">日</text>
<text transform="scale(0.76,1)" x="905.92 913.82" y="649" font-size="12.5" fill="#fff" text-anchor="middle">14</text>
<text x="696" y="649" font-size="12" fill="#fff" font-family='"Liberation Sans", "Noto Sans CJK JP", sans-serif' textLength="10" lengthAdjust="spacingAndGlyphs">日</text>
<text transform="scale(0.76,1)" x="1175.66 1183.55" y="649" font-size="12.5" fill="#fff" text-anchor="middle">15</text>
<text x="901" y="649" font-size="12" fill="#fff" font-family='"Liberation Sans", "Noto Sans CJK JP", sans-serif' textLength="10" lengthAdjust="spacingAndGlyphs">日</text>
</svg>
<div class="hscroll">
  <svg width="10" height="11" viewBox="0 0 10 11" style="left:6px;top:3px"><path d="M8 0.5V9.5L0 5Z" fill="#d4d4d4"/></svg>
  <div class="thumb"></div>
  <svg width="10" height="11" viewBox="0 0 10 11" style="left:1058px;top:3px"><path d="M0 0.5V9.5L8 5Z" fill="#d4d4d4"/></svg>
</div>
<div class="zoomrow">
  <div class="zb" style="left:1px"><svg width="14" height="14" style="left:0;top:0"><rect x="3.5" y="5.2" width="7" height="2.6" fill="#fff" stroke="#101414" stroke-width="1.2" paint-order="stroke"/></svg></div>
  <div class="track"></div>
  <svg width="12" height="14" viewBox="0 0 12 14" style="left:464px;top:-1px"><path d="M5.3 0L9.9 6.5V13.5H0.8V6.5Z" fill="#dadada"/></svg>
  <div class="zb" style="left:1058px"><svg width="14" height="14" style="left:0;top:0"><path d="M4 6.2H6.1V4H8.3V6.2H10.4V8.4H8.3V10.6H6.1V8.4H4Z" fill="#fff" stroke="#101414" stroke-width="1.2" paint-order="stroke"/></svg></div>
</div>
<div class="panel">
  <div class="cb" style="left:7px;width:78px"><div style="left:1px;top:1px;width:74px;height:14px;background:#3366cc"></div><svg width="76" height="16" viewBox="0 0 76 16" style="position:absolute;left:0;top:0;" font-family='"Liberation Sans", sans-serif'><text x="1.5" y="12.5" font-size="12" fill="#fff" font-family='"Liberation Sans", "Noto Sans CJK JP", sans-serif' textLength="62" lengthAdjust="spacingAndGlyphs">ユーロ／ドル</text></svg></div>
  <div class="dd" style="left:86px"><svg width="14" height="16" style="left:0;top:0"><path d="M2 4H12L7 12Z" fill="#000"/></svg></div>
  <div class="cb" style="left:108px;width:66px"><svg width="64" height="16" viewBox="0 0 64 16" style="position:absolute;left:0;top:0;" font-family='"Liberation Sans", sans-serif'><text x="4" y="12.5" font-size="12" fill="#000" font-family='"Liberation Sans", "Noto Sans CJK JP", sans-serif' textLength="48" lengthAdjust="spacingAndGlyphs">ローソク足</text></svg></div>
  <div class="dd" style="left:174px"><svg width="14" height="16" style="left:0;top:0"><path d="M2.5 4.5H11.5L7 11.5Z" fill="#fff" stroke="#505050" stroke-width="1"/></svg></div>
  <div class="cb" style="left:197px;width:52px"><svg width="50" height="16" viewBox="0 0 50 16" style="position:absolute;left:0;top:0;" font-family='"Liberation Sans", sans-serif'><text transform="scale(0.76,1)" x="9.21" y="13" font-size="12.5" fill="#000" text-anchor="middle">1</text><text x="11" y="12.8" font-size="12" fill="#000" font-family='"Liberation Sans", "Noto Sans CJK JP", sans-serif' textLength="23" lengthAdjust="spacingAndGlyphs">時間</text></svg></div>
  <div class="dd" style="left:249px"><svg width="14" height="16" style="left:0;top:0"><path d="M2.5 4.5H11.5L7 11.5Z" fill="#fff" stroke="#505050" stroke-width="1"/></svg></div>
  <div class="btn"><svg width="71" height="15" viewBox="0 0 71 15" style="position:absolute;left:0;top:0;" font-family='"Liberation Sans", sans-serif'><text x="22.5" y="12.3" font-size="12" fill="#000" font-family='"Liberation Sans", "Noto Sans CJK JP", sans-serif' textLength="23" lengthAdjust="spacingAndGlyphs">分析</text></svg></div>
  <div class="date" style="left:354px"><svg width="66" height="14" viewBox="0 0 66 14" style="position:absolute;left:0;top:0;" font-family='"Liberation Sans", sans-serif'><text transform="scale(0.76,1)" x="7.89 15.79 23.68 31.58 39.47 47.37 55.26 63.16 71.05 78.95" y="11.5" font-size="12.5" fill="#000" text-anchor="middle" stroke="#000" stroke-width="0.35">2011/04/16</text></svg></div>
  <div class="ddk" style="left:424px"><svg width="14" height="16" style="left:0;top:0"><path d="M2 4H12L7 12Z" fill="#fff"/></svg></div>
  <div class="date" style="left:447px"><svg width="66" height="14" viewBox="0 0 66 14" style="position:absolute;left:0;top:0;" font-family='"Liberation Sans", sans-serif'><text transform="scale(0.76,1)" x="7.89 15.79 23.68 31.58 39.47 47.37 55.26 63.16 71.05 78.95" y="11.5" font-size="12.5" fill="#000" text-anchor="middle" stroke="#000" stroke-width="0.35">2011/10/16</text></svg></div>
  <div class="ddk" style="left:517px"><svg width="14" height="16" style="left:0;top:0"><path d="M2 4H12L7 12Z" fill="#fff"/></svg></div>
  <div class="status"><svg width="500" height="16" viewBox="0 0 500 16" style="position:absolute;left:0;top:0;" font-family='"Liberation Sans", sans-serif'><text transform="scale(0.76,1)" x="11.84 19.74 27.63 35.53 43.42 51.32 59.21 67.11 75 82.89 89.47 96.05 103.95 109.21 114.47 122.37 127.63 132.89 140.79" y="12.5" font-size="12.5" fill="#fff" text-anchor="middle">2011/10/13 23:00:00</text><text x="113.8" y="12.5" font-size="12" fill="#fff" font-family='"Liberation Sans", "Noto Sans CJK JP", sans-serif' textLength="23.5" lengthAdjust="spacingAndGlyphs">始値</text><text transform="scale(0.76,1)" x="182.89 186.84 193.42 201.32 209.21 214.8 220.39 228.29 233.88" y="12.5" font-size="12.5" fill="#fff" text-anchor="middle">: 105.22,</text><text x="177.8" y="12.5" font-size="12" fill="#fff" font-family='"Liberation Sans", "Noto Sans CJK JP", sans-serif' textLength="23.5" lengthAdjust="spacingAndGlyphs">高値</text><text transform="scale(0.76,1)" x="267.11 271.05 277.63 285.53 293.42 299.01 304.61 312.5 318.09" y="12.5" font-size="12.5" fill="#fff" text-anchor="middle">: 105.33,</text><text x="241.8" y="12.5" font-size="12" fill="#fff" font-family='"Liberation Sans", "Noto Sans CJK JP", sans-serif' textLength="23.5" lengthAdjust="spacingAndGlyphs">安値</text><text transform="scale(0.76,1)" x="351.32 355.26 361.84 369.74 377.63 383.22 388.82 396.71 402.3" y="12.5" font-size="12.5" fill="#fff" text-anchor="middle">: 105.11,</text><text x="305.8" y="12.5" font-size="12" fill="#fff" font-family='"Liberation Sans", "Noto Sans CJK JP", sans-serif' textLength="23.5" lengthAdjust="spacingAndGlyphs">終値</text><text transform="scale(0.76,1)" x="435.53 439.47 446.05 453.95 461.84 467.43 473.03 480.92" y="12.5" font-size="12.5" fill="#fff" text-anchor="middle">: 105.28</text></svg></div>
</div>
</body>
</html>
